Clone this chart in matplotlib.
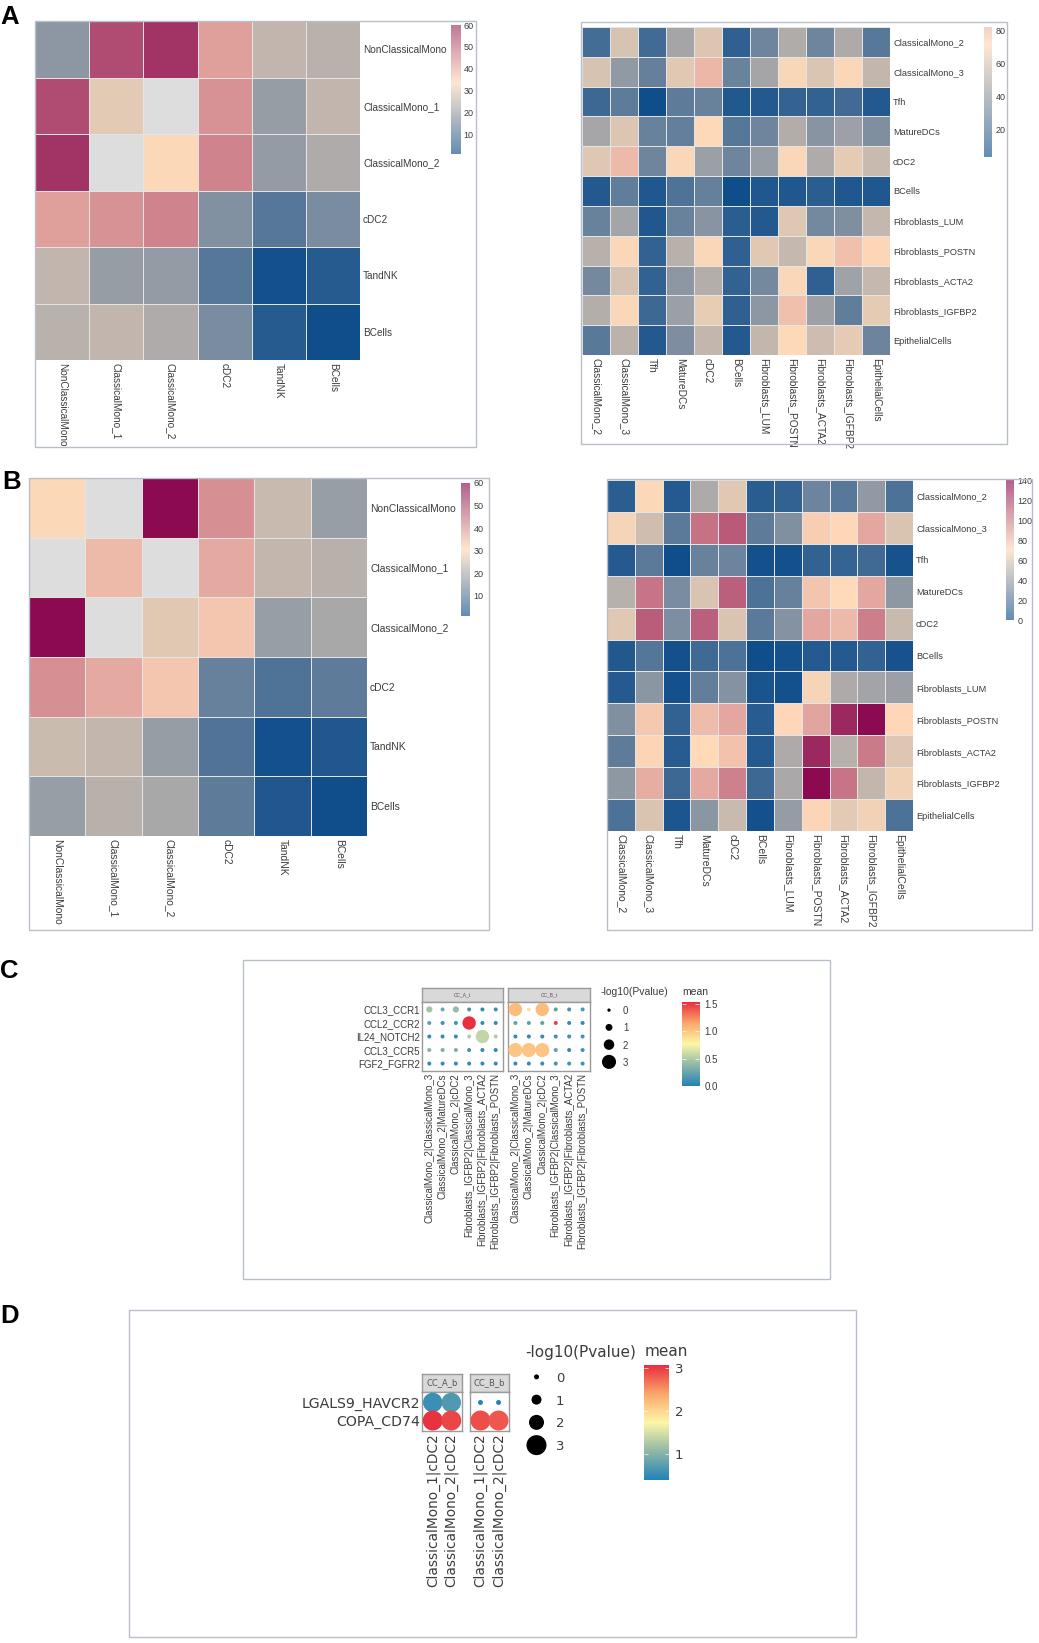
import numpy as np
import matplotlib
matplotlib.use('Agg')
import matplotlib.pyplot as plt
from matplotlib.colors import LinearSegmentedColormap, Normalize
from matplotlib.patches import Rectangle

W, H = 1039, 1643
NA = np.nan

CELLS_6 = ['NonClassicalMono', 'ClassicalMono_1', 'ClassicalMono_2', 'cDC2', 'TandNK', 'BCells']
CELLS_11 = ['ClassicalMono_2', 'ClassicalMono_3', 'Tfh', 'MatureDCs', 'cDC2', 'BCells', 'Fibroblasts_LUM',
            'Fibroblasts_POSTN', 'Fibroblasts_ACTA2', 'Fibroblasts_IGFBP2', 'EpithelialCells']

A_LEFT = [[18, 55.6, 59.5, 42.5, 25, 24],
          [55.6, 29.7, NA, 44.7, 19.4, 25],
          [59.5, NA, 33, 47, 19, 22.6],
          [42.5, 44.7, 47, 16.5, 10.5, 15.4],
          [25, 19.4, 19, 10.5, 1.5, 4],
          [24, 25, 22.6, 15.4, 4, 1]]

B_LEFT = [[30, NA, 60, 41, 23.7, 17.8],
          [NA, 35, NA, 37.4, 23, 21.7],
          [60, NA, 26.8, 33.3, 17.8, 19.9],
          [41, 37.4, 33.3, 11.7, 8.8, 10.6],
          [24, 23, 17.7, 8.9, 1.5, 2.9],
          [17.8, 21.6, 19.9, 10.6, 2.9, 1]]

A_RIGHT = [[18, 60, 17, 45.7, 61.6, 12, 30, 49, 30, 48, 23.6],
           [60, 40, 27.6, 62.6, 83, 29, 45.8, 69.5, 61, 70, 54],
           [16, 25.6, 3, 25.6, 28.3, 8, 8.5, 13.3, 13, 17, 8.5],
           [46, 61.6, 28.5, 27, 71, 23, 30, 49.6, 37.5, 43.4, 35],
           [62, 82, 30, 70, 43, 30, 41.5, 70, 48.7, 64, 56],
           [8.5, 26, 7.3, 21, 27.5, 3, 7.5, 7.5, 10.5, 7.5, 7.5],
           [28.4, 45.5, 7.5, 28.4, 37.5, 10.5, 8.5, 62, 32, 35, 54.5],
           [51, 70, 12.6, 51, 70, 12, 63, 55, 70, 80, 73],
           [32, 60, 12.6, 39, 50, 13, 32, 70, 12, 44, 55],
           [50, 70, 16, 43, 65, 12, 38.5, 80, 43.5, 26, 64],
           [24, 52, 8.5, 34.5, 54, 8.5, 54, 72, 57, 64, 29.5]]

B_RIGHT = [[8, 69, 6, 46, 61, 7.5, 10, 27, 21, 37.5, 18],
           [67, 56, 22, 105, 113, 23, 33, 74, 71, 87, 59],
           [6, 22, 0, 26, 27, 1, 1, 10, 11, 14, 2],
           [49, 104, 31, 59, 111, 18, 25.5, 77, 70, 87, 37],
           [61, 112, 32, 111, 59, 22, 34, 87, 81, 101, 54],
           [5, 20, 1, 14, 18, 0, 1.5, 6, 6, 10, 2],
           [6, 36, 1, 24, 34, 3, 1, 67, 46, 43, 41],
           [33, 76, 10, 80, 87, 7, 71, 88, 130, 140, 71],
           [23, 72, 7, 70, 78, 6, 46, 130, 49, 102, 60],
           [37, 85, 13, 86, 100, 13, 45, 140, 104, 52, 66],
           [18, 59, 4, 36, 54, 1, 39, 72, 62, 66, 18]]

C_ROWS = ['CCL3_CCR1', 'CCL2_CCR2', 'IL24_NOTCH2', 'CCL3_CCR5', 'FGF2_FGFR2']
C_COLS = ['ClassicalMono_2|ClassicalMono_3', 'ClassicalMono_2|MatureDCs', 'ClassicalMono_2|cDC2',
          'Fibroblasts_IGFBP2|ClassicalMono_3', 'Fibroblasts_IGFBP2|Fibroblasts_ACTA2',
          'Fibroblasts_IGFBP2|Fibroblasts_POSTN']
C_A_P = [[0.8, 0.2, 0.8, 0.2, 0.2, 0.2],
         [0.2, 0.2, 0.2, 2.8, 0.2, 0.2],
         [0.2, 0.2, 0.2, 0.2, 2.8, 0.2],
         [0.2, 0.2, 0.2, 0.2, 0.2, 0.2],
         [0.2, 0.2, 0.2, 0.2, 0.2, 0.2]]
C_A_MEAN = [[0.45, 0.25, 0.4, 0.12, 0.05, 0.08],
            [0.2, 0.1, 0.1, 1.5, 0.05, 0.05],
            [0.05, 0.05, 0.05, 0.5, 0.55, 0.5],
            [0.35, 0.3, 0.3, 0.1, 0.05, 0.05],
            [0.05, 0.05, 0.05, 0.05, 0.05, 0.05]]
C_B_P = [[2.8, 0.1, 2.8, 0.2, 0.2, 0.2],
         [0.2, 0.2, 0.2, 0.2, 0.2, 0.2],
         [0.2, 0.2, 0.2, 0.2, 0.2, 0.2],
         [3.0, 3.0, 3.0, 0.2, 0.2, 0.2],
         [0.2, 0.2, 0.2, 0.2, 0.2, 0.2]]
C_B_MEAN = [[1.02, 0.85, 1.02, 0.2, 0.12, 0.15],
            [0.22, 0.2, 0.2, 1.45, 0.05, 0.05],
            [0.05, 0.05, 0.05, 0.1, 0.1, 0.1],
            [0.98, 0.98, 0.98, 0.2, 0.05, 0.1],
            [0.05, 0.05, 0.05, 0.1, 0.1, 0.1]]

D_ROWS = ['LGALS9_HAVCR2', 'COPA_CD74']
D_COLS = ['ClassicalMono_1|cDC2', 'ClassicalMono_2|cDC2']
D_A_P = [[2.9, 2.9], [3.0, 3.0]]
D_A_MEAN = [[0.55, 0.68], [3.05, 2.95]]
D_B_P = [[0.0, 0.0], [3.0, 3.0]]
D_B_MEAN = [[0.4, 0.4], [2.9, 2.85]]

PVALUE_LEVELS = [0, 1, 2, 3]

HEAT_CMAP = LinearSegmentedColormap.from_list('heat', ['#104E8B', '#FFDAB9', '#8B0A50'], N=1000)
HEAT_CMAP.set_bad('#DDDDDD')
DOT_CMAP = LinearSegmentedColormap.from_list('dots', ['#2484b8', '#90b8a6', '#fdf7a8', '#fba76c', '#e8303e'])

TEXT = '#3c3c3c'
SANS = 'Liberation Sans'
DEJAVU = 'DejaVu Sans'


def add_ax(fig, x0, y0, x1, y1):
    # pixel box, y measured from the top of the picture
    return fig.add_axes([x0 / W, 1 - y1 / H, (x1 - x0) / W, (y1 - y0) / H])


def frame(fig, x0, y0, x1, y1):
    fig.add_artist(Rectangle((x0 / W, 1 - y1 / H), (x1 - x0) / W, (y1 - y0) / H, transform=fig.transFigure,
                             fill=False, ec='#b9bfca', lw=1.0))


def heatmap(fig, box, values, labels, vmin, vmax, size, xsize):
    ax = add_ax(fig, *box)
    ax.pcolormesh(np.ma.masked_invalid(np.array(values, dtype=float)), cmap=HEAT_CMAP,
                  norm=Normalize(vmin, vmax), edgecolors='#e4e4e4', linewidth=0.7)
    ax.set_ylim(len(labels), 0)
    ticks = np.arange(len(labels)) + 0.5
    ax.set_xticks(ticks)
    ax.set_yticks(ticks)
    ax.set_xticklabels(labels, rotation=-90, va='top', ha='center', fontsize=xsize, color=TEXT, family=SANS)
    ax.set_yticklabels(labels, fontsize=size, color=TEXT, family=SANS)
    ax.yaxis.tick_right()
    ax.tick_params(length=0, pad=2.2)
    for s in ax.spines.values():
        s.set_visible(False)


def heat_bar(fig, box, vlo, vhi, vmin, vmax, ticks):
    ax = add_ax(fig, *box)
    grad = np.linspace(vhi, vlo, 200).reshape(-1, 1)
    ax.imshow(grad, cmap=HEAT_CMAP, norm=Normalize(vmin, vmax), extent=[0, 1, vlo, vhi], aspect='auto', alpha=0.65)
    ax.set_xticks([])
    ax.set_yticks(ticks)
    ax.yaxis.tick_right()
    ax.tick_params(length=0, pad=2.5, labelsize=6.5, labelcolor=TEXT)
    for t in ax.get_yticklabels():
        t.set_family(SANS)
    for s in ax.spines.values():
        s.set_visible(False)


def dot_facet(fig, box, strip_h, title, p, mean, vmin, vmax, d0, dk, rows, cols, size, family, strip_size, pad):
    x0, y0, x1, y1 = box
    strip = add_ax(fig, x0, y0 - strip_h, x1, y0)
    strip.set_facecolor('#d9d9d9')
    strip.set_xticks([])
    strip.set_yticks([])
    strip.text(0.5, 0.5, title, ha='center', va='center', fontsize=strip_size, color='#555555',
               family=family, transform=strip.transAxes)
    ax = add_ax(fig, x0, y0, x1, y1)
    for a in (strip, ax):
        for s in a.spines.values():
            s.set_color('#9a9a9a')
            s.set_linewidth(1.0)
    yy, xx = np.mgrid[0:len(rows), 0:len(cols)]
    diam = (d0 + dk * np.array(p)) * 0.72
    ax.scatter(xx.ravel(), yy.ravel(), s=diam.ravel() ** 2, c=np.array(mean).ravel(), cmap=DOT_CMAP,
               vmin=vmin, vmax=vmax, linewidths=0, zorder=3)
    ax.set_xlim(-pad, len(cols) - 1 + pad)
    ax.set_ylim(len(rows) - 1 + pad, -pad)
    ax.set_xticks(range(len(cols)))
    ax.set_xticklabels(cols, rotation=90, ha='center', va='top', fontsize=size, color=TEXT, family=family)
    ax.set_yticks(range(len(rows)))
    ax.tick_params(length=0, pad=1.5)
    return ax


def size_legend(fig, box, d0, dk, size, family, pad):
    ax = add_ax(fig, *box)
    diam = (d0 + dk * np.array(PVALUE_LEVELS)) * 0.72
    ax.scatter([0] * len(PVALUE_LEVELS), PVALUE_LEVELS, s=diam ** 2, c='black', linewidths=0)
    ax.set_xlim(-0.5, 0.5)
    ax.set_ylim(3.5, -0.5)
    ax.set_xticks([])
    ax.set_yticks(PVALUE_LEVELS)
    ax.set_yticklabels([str(v) for v in PVALUE_LEVELS], fontsize=size, color=TEXT, family=family)
    ax.yaxis.tick_right()
    ax.tick_params(length=0, pad=pad)
    ax.patch.set_alpha(0)
    for s in ax.spines.values():
        s.set_visible(False)


def dot_bar(fig, box, vlo, vhi, vmin, vmax, ticks, labels, size, family):
    ax = add_ax(fig, *box)
    grad = np.linspace(vhi, vlo, 200).reshape(-1, 1)
    ax.imshow(grad, cmap=DOT_CMAP, vmin=vmin, vmax=vmax, extent=[0, 1, vlo, vhi], aspect='auto')
    ax.set_xticks([])
    ax.set_yticks(ticks)
    ax.set_yticklabels(labels, fontsize=size, color=TEXT, family=family)
    ax.yaxis.tick_right()
    ax.tick_params(left=True, right=True, direction='in', color='white', width=0.5, length=3, pad=4)
    for s in ax.spines.values():
        s.set_visible(False)


def pixel_text(fig, x, y, s, size, family=SANS, color=TEXT, weight='normal', va='center', ha='left'):
    fig.text(x / W, 1 - y / H, s, fontsize=size, family=family, color=color, fontweight=weight, va=va, ha=ha)


def main():
    fig = plt.figure(figsize=(W / 100, H / 100), dpi=100)

    # panels A and B, frames first
    frame(fig, 35, 21, 476, 447)
    frame(fig, 581, 22, 1007, 444)
    frame(fig, 29, 478, 489, 930)
    frame(fig, 607, 479, 1032, 930)
    frame(fig, 243, 960, 830, 1279)
    frame(fig, 129, 1310, 856, 1637)

    heatmap(fig, (35, 21, 360, 360), A_LEFT, CELLS_6, 1, 66, 7.2, 7.2)
    heat_bar(fig, (451, 25, 460, 154), 1, 60, 1, 66, [10, 20, 30, 40, 50, 60])
    heatmap(fig, (582, 27, 890, 355), A_RIGHT, CELLS_11, 3, 140, 6.7, 7.3)
    heat_bar(fig, (984, 27, 992, 157), 3.6, 82.4, 3, 140, [20, 40, 60, 80])
    heatmap(fig, (29, 478, 367, 836), B_LEFT, CELLS_6, 1, 60, 7.4, 7.4)
    heat_bar(fig, (461, 483, 470, 616), 1.1, 60, 1, 60, [10, 20, 30, 40, 50, 60])
    heatmap(fig, (607, 480, 913, 831), B_RIGHT, CELLS_11, 0, 140, 6.7, 7.5)
    heat_bar(fig, (1006, 480, 1014, 620), 0, 140, 0, 140, [0, 20, 40, 60, 80, 100, 120, 140])

    # panel C
    ax = dot_facet(fig, (422, 1002, 503, 1071), 14, 'CC_A_t', C_A_P, C_A_MEAN, 0, 1.5, 3.3, 3.6,
                   C_ROWS, C_COLS, 7, SANS, 3.5, 0.55)
    ax.set_yticklabels(C_ROWS, fontsize=7, color=TEXT, family=SANS)
    ax = dot_facet(fig, (508, 1002, 590, 1071), 14, 'CC_B_t', C_B_P, C_B_MEAN, 0, 1.5, 3.3, 3.6,
                   C_ROWS, C_COLS, 7, SANS, 3.5, 0.55)
    ax.set_yticklabels([])
    pixel_text(fig, 601, 992, '-log10(Pvalue)', 7.5)
    pixel_text(fig, 682, 992, 'mean', 7.5)
    size_legend(fig, (595, 1001.5, 623, 1070.5), 3.3, 3.6, 7, SANS, 0)
    dot_bar(fig, (682, 1002, 699, 1086), 0, 1.54, 0, 1.54, [0, 0.5, 1, 1.5], ['0.0', '0.5', '1.0', '1.5'], 7, SANS)

    # panel D
    ax = dot_facet(fig, (422, 1392, 462, 1431), 18, 'CC_A_b', D_A_P, D_A_MEAN, 0.4, 3.07, 5, 5,
                   D_ROWS, D_COLS, 9.9, DEJAVU, 6, 0.58)
    ax.set_yticklabels(D_ROWS, fontsize=10.2, color=TEXT, family=DEJAVU)
    ax = dot_facet(fig, (470, 1392, 509, 1431), 18, 'CC_B_b', D_B_P, D_B_MEAN, 0.4, 3.07, 5, 5,
                   D_ROWS, D_COLS, 9.9, DEJAVU, 6, 0.58)
    ax.set_yticklabels([])
    pixel_text(fig, 525, 1352, '-log10(Pvalue)', 11, family=DEJAVU)
    pixel_text(fig, 645, 1352, 'mean', 11, family=DEJAVU)
    size_legend(fig, (520, 1365.5, 553, 1456.5), 5, 5, 9.5, DEJAVU, 2)
    dot_bar(fig, (644, 1365, 669, 1480), 0.4, 3.07, 0.4, 3.07, [1, 2, 3], ['1', '2', '3'], 9.5, DEJAVU)

    # panel letters
    for x, y, s in [(0, 24, 'A'), (2, 489, 'B'), (0, 978, 'C'), (0, 1323, 'D')]:
        pixel_text(fig, x, y, s, 18.5, color='black', weight='bold', va='baseline')

    fig.savefig('out.png', dpi=100)


if __name__ == '__main__':
    main()
